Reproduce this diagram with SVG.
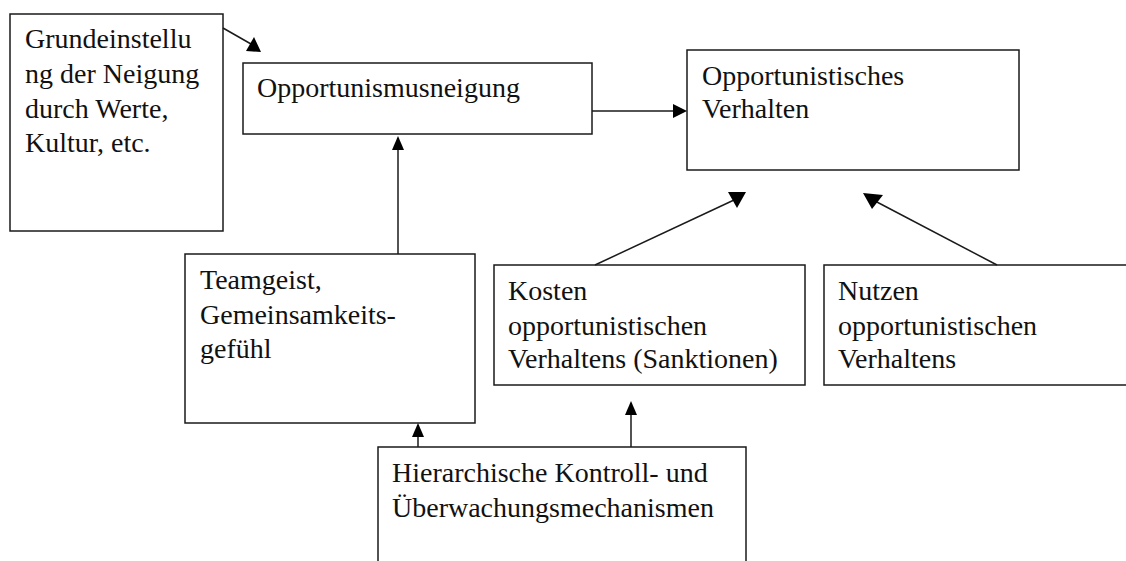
<svg xmlns="http://www.w3.org/2000/svg" width="1126" height="561" viewBox="0 0 1126 561">
  <style>
    .box { fill: #ffffff; stroke: #1a1a1a; stroke-width: 1.5; }
    .lbl { font-family: "Liberation Serif", "Times New Roman", serif; font-size: 28px; fill: #111111; }
    .wire { stroke: #1a1a1a; stroke-width: 1.5; fill: none; }
    .head { fill: #000000; }
  </style>
  <rect x="0" y="0" width="1126" height="561" fill="#ffffff"/>

  <g id="node-grundeinstellung">
    <rect class="box" x="10" y="14" width="213" height="217"/>
    <text class="lbl" x="25" y="48">Grundeinstellu</text>
    <text class="lbl" x="25" y="83">ng der Neigung</text>
    <text class="lbl" x="25" y="118">durch Werte,</text>
    <text class="lbl" x="25" y="152">Kultur, etc.</text>
  </g>

  <g id="node-opportunismusneigung">
    <rect class="box" x="243" y="63" width="349" height="71"/>
    <text class="lbl" x="257" y="97">Opportunismusneigung</text>
  </g>

  <g id="node-verhalten">
    <rect class="box" x="687" y="50" width="332" height="120"/>
    <text class="lbl" x="702" y="85">Opportunistisches</text>
    <text class="lbl" x="702" y="118">Verhalten</text>
  </g>

  <g id="node-teamgeist">
    <rect class="box" x="185" y="254" width="290" height="169"/>
    <text class="lbl" x="200" y="289">Teamgeist,</text>
    <text class="lbl" x="200" y="324">Gemeinsamkeits-</text>
    <text class="lbl" x="200" y="358">gefühl</text>
  </g>

  <g id="node-kosten">
    <rect class="box" x="494" y="265" width="311" height="120"/>
    <text class="lbl" x="508" y="300">Kosten</text>
    <text class="lbl" x="508" y="335">opportunistischen</text>
    <text class="lbl" x="508" y="368">Verhaltens (Sanktionen)</text>
  </g>

  <g id="node-nutzen">
    <rect class="box" x="824" y="265" width="320" height="120"/>
    <text class="lbl" x="838" y="300">Nutzen</text>
    <text class="lbl" x="838" y="335">opportunistischen</text>
    <text class="lbl" x="838" y="368">Verhaltens</text>
  </g>

  <g id="node-kontrolle">
    <rect class="box" x="378" y="447" width="368" height="130"/>
    <text class="lbl" x="392" y="482">Hierarchische Kontroll- und</text>
    <text class="lbl" x="392" y="517">Überwachungsmechanismen</text>
  </g>

  <g id="connectors">
    <!-- Grundeinstellung -> Opportunismusneigung -->
    <line class="wire" x1="223" y1="28" x2="251" y2="44"/>
    <polygon class="head" points="254,37 246,51 261,52"/>

    <!-- Opportunismusneigung -> Verhalten -->
    <line class="wire" x1="592" y1="111" x2="675" y2="111"/>
    <polygon class="head" points="687,111 673,104 673,118"/>

    <!-- Teamgeist -> Opportunismusneigung -->
    <line class="wire" x1="398" y1="254" x2="398" y2="148"/>
    <polygon class="head" points="398,136 392,150 404,150"/>

    <!-- Kosten -> Verhalten -->
    <line class="wire" x1="595" y1="265" x2="734" y2="200"/>
    <polygon class="head" points="728,192 746,192 737,208"/>

    <!-- Nutzen -> Verhalten -->
    <line class="wire" x1="997" y1="265" x2="875" y2="201"/>
    <polygon class="head" points="863,193 883,195 872,209"/>

    <!-- Kontrolle -> Teamgeist -->
    <line class="wire" x1="418" y1="447" x2="418" y2="434"/>
    <polygon class="head" points="418,423 412,437 424,437"/>

    <!-- Kontrolle -> Kosten -->
    <line class="wire" x1="631" y1="447" x2="631" y2="412"/>
    <polygon class="head" points="631,401 625,415 637,415"/>
  </g>
</svg>
